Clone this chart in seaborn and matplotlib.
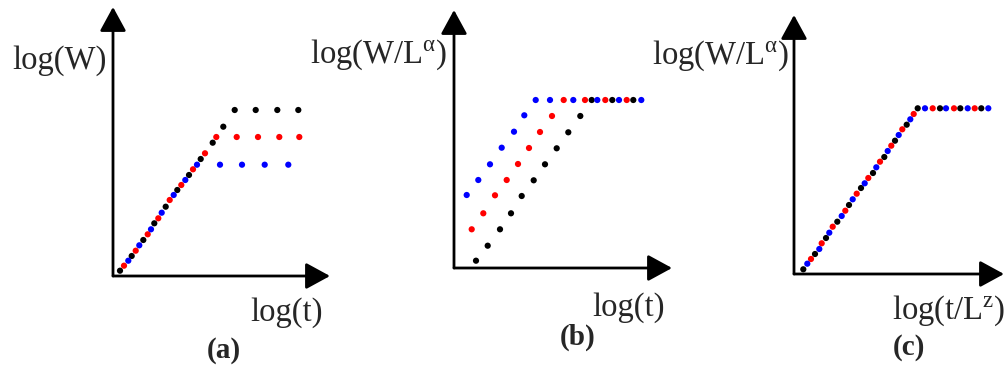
import pandas as pd
import matplotlib.pyplot as plt
import seaborn as sns

sns.set_style('white')
plt.rcParams['font.family'] = ['Liberation Serif', 'DejaVu Serif']
plt.rcParams['mathtext.default'] = 'regular'

# Painel (a): log(W) x log(t) - unidades arbitrarias
a_black_x = [7, 18.7, 30.3, 41.3, 52.7, 64.3, 76, 87.7, 99.7, 110.3, 121.7, 142.7, 164.3, 185.3]
a_black_y = [5.3, 20, 36, 52.7, 69.3, 86, 101, 117, 133.3, 149.3, 166, 166, 166, 166]
a_red_x = [11, 22.7, 34.7, 45.3, 56.7, 68.3, 80, 92, 103.3, 123.7, 145, 166.3, 186.3]
a_red_y = [10.3, 25.3, 41.7, 57.7, 76, 91, 106.7, 122.7, 139, 139, 139, 139, 139]
a_blue_x = [15.3, 26.3, 38, 48.7, 60.7, 72.3, 84, 107, 129, 151.7, 175.3]
a_blue_y = [15.3, 30.7, 46.7, 63.3, 81, 96, 111.3, 111.3, 111.3, 111.3, 111.3]

# Painel (b): log(W/L^a) x log(t)
b_black_x = [22, 33.7, 46, 57, 67.7, 79.7, 91, 102.7, 114.3, 126.3, 137.7, 158.3, 179.3]
b_black_y = [7.3, 22.3, 38.7, 54.7, 72, 87.7, 103.7, 119.7, 135.7, 152, 168, 168, 168]
b_red_x = [17.7, 29.3, 41, 52.7, 64, 75, 86, 98, 109.7, 131, 151.3, 172.7]
b_red_y = [38.7, 54.7, 72.7, 88, 104, 120, 136, 152, 168, 168, 168, 168]
b_blue_x = [12.7, 24.3, 36, 47.7, 60, 70.3, 81.7, 96, 119.3, 143.3, 165, 187.3]
b_blue_y = [73, 88, 103.7, 120.3, 136.3, 152.7, 168, 168, 168, 168, 168, 168]

# Painel (c): log(W/L^a) x log(t/L^z)
c_black_x = [9.3, 21, 32, 43.3, 55, 67, 79, 90.3, 101, 112.7, 123.7, 146, 166.3, 187.3]
c_black_y = [4.7, 20, 36, 52.3, 69, 86, 101, 117, 133.3, 149.3, 165.7, 165.7, 165.7, 165.7]
c_red_x = [17, 27.7, 38.7, 51.3, 62.7, 74.3, 86, 97.3, 108.3, 119.7, 138.7, 160, 180.7]
c_red_y = [15, 30.7, 47.3, 63.3, 80.3, 96, 112.3, 128.3, 144.7, 160, 165.7, 165.7, 165.7]
c_blue_x = [13.3, 25.3, 35.3, 47.7, 58.7, 70.7, 82.3, 93.7, 104.7, 116.3, 131, 152, 173.7, 194.3]
c_blue_y = [10.3, 25, 41.3, 58, 74.7, 90.7, 106.7, 123, 139, 154.7, 165.7, 165.7, 165.7, 165.7]

cores = {'black': '#000000', 'red': '#ff0000', 'blue': '#0000ff'}

W, H = 1005, 371
fig = plt.figure(figsize=(W / 100, H / 100), dpi=100)


def monta_df(bx, by, rx, ry, ux, uy):
    partes = [pd.DataFrame({'x': bx, 'y': by, 'serie': 'black'}),
              pd.DataFrame({'x': rx, 'y': ry, 'serie': 'red'}),
              pd.DataFrame({'x': ux, 'y': uy, 'serie': 'blue'})]
    return pd.concat(partes, ignore_index=True)


def painel(df, x0, y0, x1, y1):
    # x0,y0 = origem em pixels; x1 = ponta da seta x; y1 = ponta da seta y
    w, h = x1 - x0, y0 - y1
    ax = fig.add_axes([x0 / W, (H - y0) / H, w / W, h / H])
    sns.scatterplot(data=df, x='x', y='y', hue='serie', palette=cores, s=20,
                    linewidth=0, legend=False, ax=ax, clip_on=False)
    ax.set_xlim(0, w)
    ax.set_ylim(0, h)
    ax.set_axis_off()
    seta = dict(arrowstyle='-|>,head_length=0.55,head_width=0.3', lw=2, color='black',
                mutation_scale=27, shrinkA=0, shrinkB=0)
    ax.annotate('', xy=(1, 0), xytext=(0, 0), xycoords='axes fraction', arrowprops=seta,
                annotation_clip=False)
    ax.annotate('', xy=(0, 1), xytext=(0, 0), xycoords='axes fraction', arrowprops=seta,
                annotation_clip=False)
    return ax


painel(monta_df(a_black_x, a_black_y, a_red_x, a_red_y, a_blue_x, a_blue_y), 113, 276, 330, 7)
painel(monta_df(b_black_x, b_black_y, b_red_x, b_red_y, b_blue_x, b_blue_y), 454, 268, 672, 10)
painel(monta_df(c_black_x, c_black_y, c_red_x, c_red_y, c_blue_x, c_blue_y), 794, 274, 1004, 15)


def texto(px, py, s, size=23.5, weight='normal'):
    fig.text(px / W, (H - py) / H, s, fontsize=size, fontweight=weight, va='baseline', ha='left')


texto(12, 69, 'log(W)')
texto(250, 321, 'log(t)')
texto(207, 358, '(a)', size=21, weight='bold')

texto(310, 63, r'log(W/L$^{\alpha}$)')
texto(592, 316, 'log(t)')
texto(560, 345, '(b)', size=21, weight='bold')

texto(652, 64, r'log(W/L$^{\alpha}$)')
texto(892, 319, r'log(t/L$^{z}$)')
texto(893, 355, '(c)', size=21, weight='bold')

fig.savefig('out.png', dpi=100)
